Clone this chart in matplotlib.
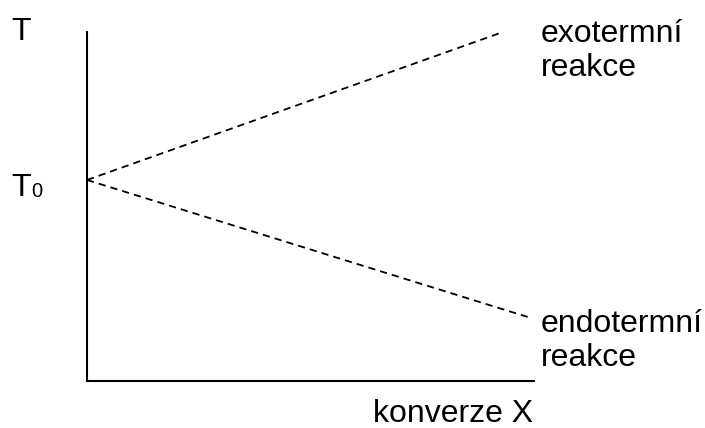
import matplotlib.pyplot as plt

plt.rcParams['font.family'] = ['Liberation Sans', 'DejaVu Sans']

# konverze X (0..1) a teplota T (relativne k ose)
T0 = 0.576
x_exo = [0.0, 0.924]
T_exo = [T0, 0.997]
x_endo = [0.0, 0.987]
T_endo = [T0, 0.183]

W, H = 705, 428
fig = plt.figure(figsize=(W / 100, H / 100), dpi=100)
ax = fig.add_axes([87 / W, (H - 381) / H, 447 / W, 349 / H])
ax.set_xlim(0, 1)
ax.set_ylim(0, 1)

ax.plot(x_exo, T_exo, color='black', lw=1.3, dashes=(4, 2.8))
ax.plot(x_endo, T_endo, color='black', lw=1.3, dashes=(4, 2.8))

for s in ['top', 'right']:
    ax.spines[s].set_visible(False)
for s in ['left', 'bottom']:
    ax.spines[s].set_linewidth(1.5)
ax.set_xticks([])
ax.set_yticks([])


def px_text(x, y, s, size=23, **kw):
    # pozice v pixelech obrazku (y od horniho okraje)
    fig.text(x / W, 1 - y / H, s, fontsize=size, va='baseline', ha='left', **kw)


px_text(11, 40, 'T')
px_text(11, 196, 'T')
px_text(31, 197, '0', size=14.5)
px_text(541, 42, 'exotermní')
px_text(541, 76, 'reakce')
px_text(541, 332, 'endotermní')
px_text(541, 366, 'reakce')
px_text(373, 422, 'konverze X')

fig.savefig('out.png', dpi=100)
